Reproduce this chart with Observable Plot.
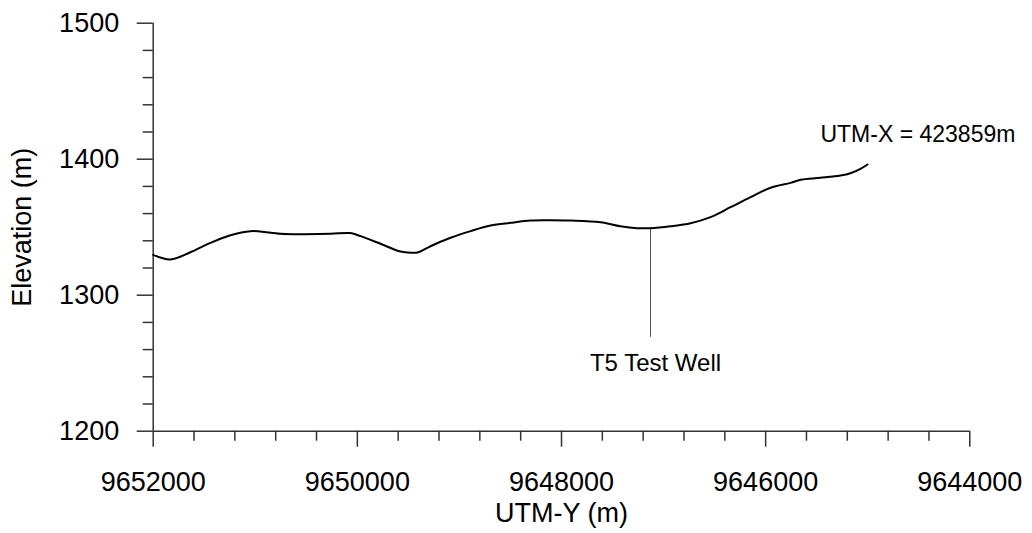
<!DOCTYPE html>
<html><head><meta charset="utf-8">
<script src="https://cdn.jsdelivr.net/npm/d3@7"></script>
<script src="https://cdn.jsdelivr.net/npm/@observablehq/plot@0.6"></script>
<style>body{margin:0;background:#fff} svg{display:block}</style>
</head><body><div id="chart"></div>
<script>
// Profile along UTM-Y (northing), elevation in metres
const utmY = [9652000, 9651830, 9651635, 9651439, 9651243, 9651047, 9650949, 9650753, 9650557, 9650263,
  9650067, 9649969, 9649773, 9649577, 9649479, 9649401, 9649283, 9649087, 9648891, 9648695,
  9648500, 9648304, 9648108, 9647912, 9647618, 9647422, 9647258, 9647128, 9646932, 9646736,
  9646540, 9646344, 9646148, 9645952, 9645756, 9645658, 9645463, 9645267, 9645169, 9645071, 9645002];
const elevation = [1329.7, 1326.3, 1331.6, 1338.5, 1344.1, 1347.1, 1346.8, 1345.1, 1344.9, 1345.1,
  1345.7, 1343.4, 1337.8, 1332.1, 1331.2, 1331.6, 1336.0, 1342.2, 1347.1, 1351.2,
  1353.2, 1354.9, 1355.1, 1354.9, 1353.7, 1350.7, 1349.3, 1349.3, 1350.7, 1352.9,
  1357.4, 1364.7, 1372.1, 1379.0, 1382.6, 1384.9, 1386.3, 1388.0, 1389.7, 1392.9, 1396.1];

const xMajorTicks = [9652000, 9650000, 9648000, 9646000, 9644000];
const xMinorTicks = [9651600, 9651200, 9650800, 9650400, 9649600, 9649200, 9648800, 9648400,
  9647600, 9647200, 9646800, 9646400, 9645600, 9645200, 9644800, 9644400];
const yMajorTicks = [1200, 1300, 1400, 1500];
const yMinorTicks = [1220, 1240, 1260, 1280, 1320, 1340, 1360, 1380, 1420, 1440, 1460, 1480];

const wellName = ["T5 Test Well"];
const wellUtmY = [9647128];
const wellTop = [1349.3];
const wellBottom = [1269];
const wellLabelElev = [1249.6];

const utmXText = ["UTM-X = 423859m"];
const utmXTextPos = [9645463];
const utmXTextElev = [1418.2];

const profile = utmY.map((x, i) => ({x, y: elevation[i]}));
const wells = wellName.map((n, i) => ({name: n, x: wellUtmY[i], top: wellTop[i], bottom: wellBottom[i], ly: wellLabelElev[i]}));
const notes = utmXText.map((t, i) => ({t, x: utmXTextPos[i], y: utmXTextElev[i]}));

const axisColor = "#333";
const font = "Arial, 'Liberation Sans', sans-serif";

const chart = Plot.plot({
  width: 1032, height: 533,
  marginLeft: 152.7, marginRight: 62.7, marginTop: 22.7, marginBottom: 102.3,
  style: {fontFamily: font, background: "#fff", color: "#000", overflow: "visible"},
  x: {domain: [9652000, 9644000]},
  y: {domain: [1200, 1500]},
  marks: [
    Plot.axisX(xMinorTicks, {tickSize: 10, text: null, label: null, stroke: axisColor, strokeWidth: 1.5, strokeOpacity: 1}),
    Plot.axisX(xMajorTicks, {tickSize: 16, tickPadding: 25, tickFormat: d => String(d), fontSize: 27,
      stroke: axisColor, strokeWidth: 1.5, strokeOpacity: 1, fill: "#000",
      label: "UTM-Y (m)", labelAnchor: "center", labelOffset: 91, labelArrow: "none"}),
    Plot.axisY(yMinorTicks, {tickSize: 10, text: null, label: null, stroke: axisColor, strokeWidth: 1.5, strokeOpacity: 1}),
    Plot.axisY(yMajorTicks, {tickSize: 16, tickPadding: 18, tickFormat: d => String(d), fontSize: 27,
      stroke: axisColor, strokeWidth: 1.5, strokeOpacity: 1, fill: "#000",
      label: "Elevation (m)", labelAnchor: "center", labelOffset: 141, labelArrow: "none"}),
    Plot.ruleX([9652000], {stroke: axisColor, strokeWidth: 1.5}),
    Plot.ruleY([1200], {stroke: axisColor, strokeWidth: 1.5}),
    Plot.ruleX(wells, {x: "x", y1: "bottom", y2: "top", stroke: "#555", strokeWidth: 1}),
    Plot.text(wells, {x: "x", y: "ly", text: "name", dx: 5, fontSize: 24, fill: "#000"}),
    Plot.line(profile, {x: "x", y: "y", curve: "catmull-rom", stroke: "#000", strokeWidth: 2}),
    Plot.text(notes, {x: "x", y: "y", text: "t", textAnchor: "start", fontSize: 23, fill: "#000"})
  ]
});
document.getElementById("chart").append(chart);
</script>
</body></html>
